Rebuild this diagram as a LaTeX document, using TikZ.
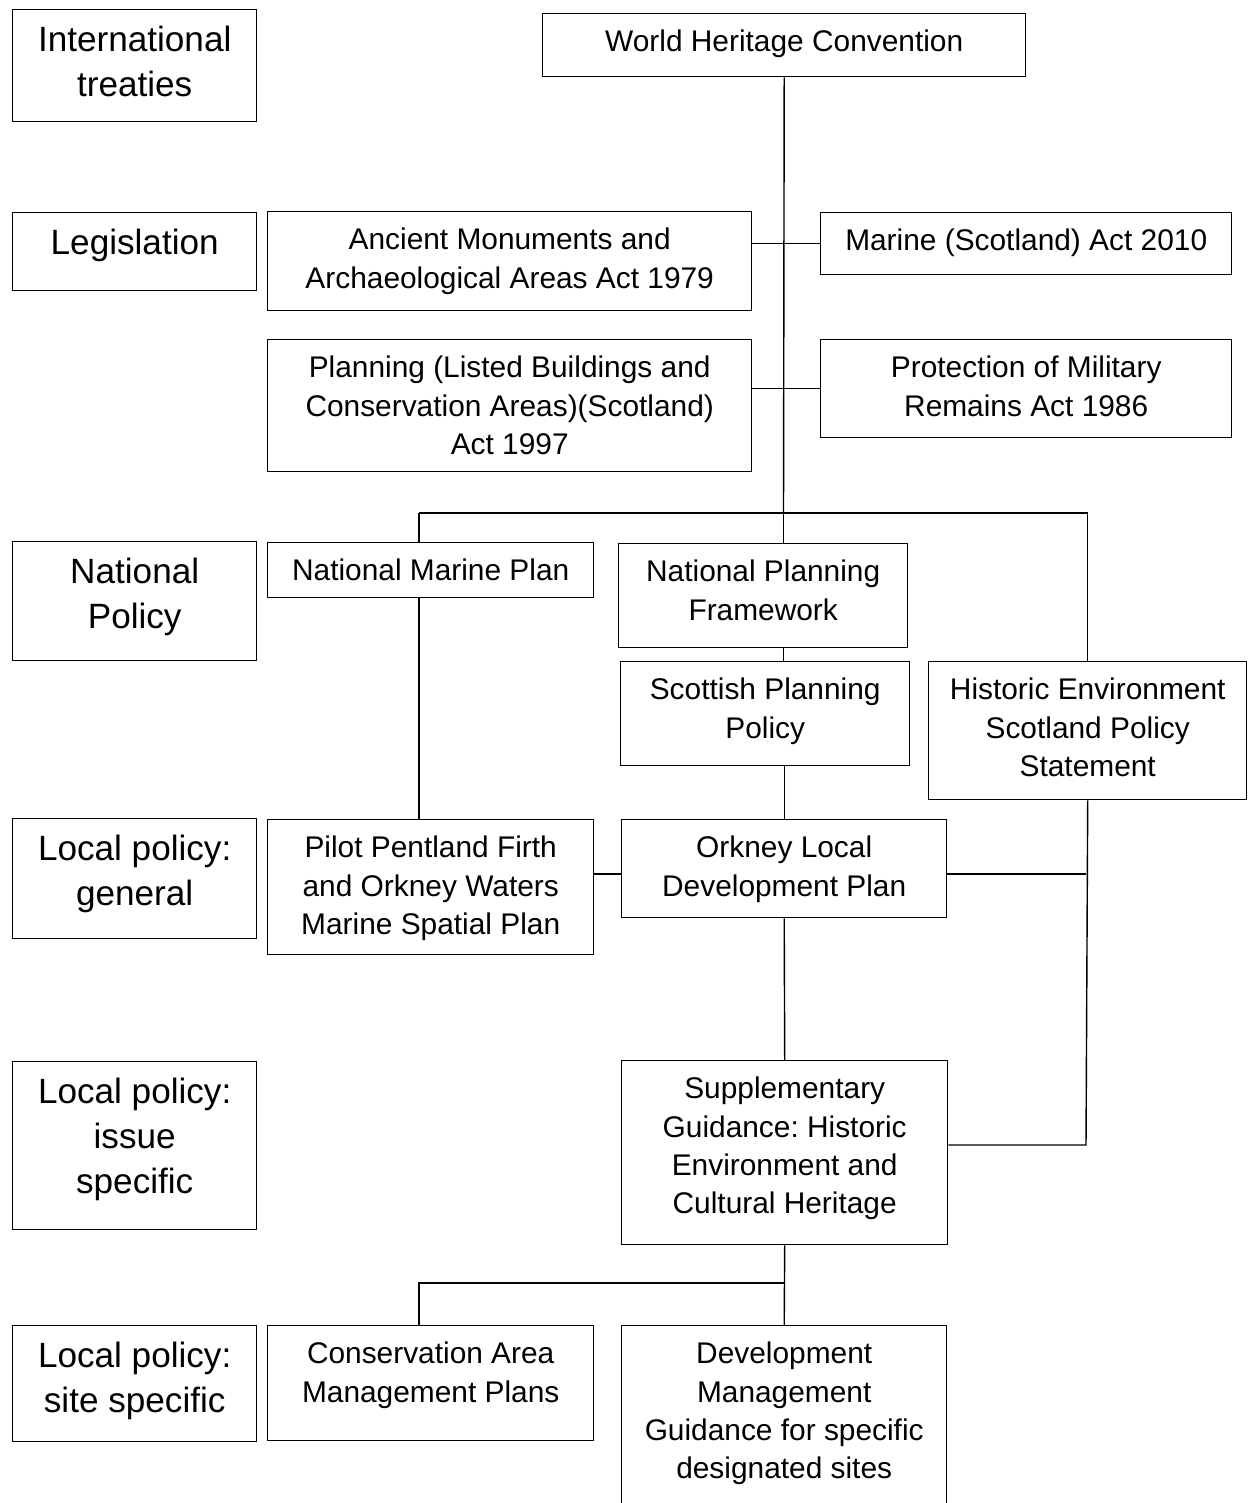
\documentclass[tikz,border=0pt]{standalone}
\usepackage{fontspec}
\setmainfont{Liberation Sans}
\usepackage{tikz}
\frenchspacing

\newdimen\px
\px=0.02cm
% box text: width, height (in px), text set at the top
\newcommand{\cell}[3]{\parbox[t][\dimexpr#2\px-0.66cm\relax][t]{#1\px}{\centering #3}}

\tikzset{
	box/.style={draw=black, line width=0.8pt, anchor=north west, inner xsep=0pt, inner ysep=0.33cm, font=\fontsize{17}{21.8}\selectfont},
	tier/.style={box, font=\fontsize{20}{25.5}\selectfont},
	link/.style={draw=black, line width=0.8pt}
}

\begin{document}
\begin{tikzpicture}[x=0.02cm, y=-0.02cm]
	
	\useasboundingbox (0,0) rectangle (1247,1503);
	
	% levels
	\node[tier] (trt) at (12, 9)    {\cell{244}{112}{International\\treaties}};
	\node[tier] (leg) at (12, 212)  {\cell{244}{78}{Legislation}};
	\node[tier] (nat) at (12, 541)  {\cell{244}{119}{National\\Policy}};
	\node[tier] (lpg) at (12, 818)  {\cell{244}{120}{Local policy:\\general}};
	\node[tier] (lpi) at (12, 1061) {\cell{244}{168}{Local policy:\\issue\\specific}};
	\node[tier] (lps) at (12, 1325) {\cell{244}{116}{Local policy:\\site specific}};
	
	% documents
	\node[box] (whc) at (542, 13)   {\cell{483}{63}{World Heritage Convention}};
	\node[box] (anc) at (267, 211)  {\cell{484}{99}{Ancient Monuments and\\Archaeological Areas Act 1979}};
	\node[box] (mar) at (820, 212)  {\cell{411}{62}{Marine (Scotland) Act 2010}};
	\node[box] (pla) at (267, 339)  {\cell{484}{132}{Planning (Listed Buildings and\\Conservation Areas)(Scotland)\\Act 1997}};
	\node[box] (pro) at (820, 339)  {\cell{411}{98}{Protection of Military\\Remains Act 1986}};
	\node[box] (nmp) at (267, 542)  {\cell{326}{53}{National Marine Plan}};
	\node[box] (npf) at (618, 543)  {\cell{289}{104}{National Planning\\Framework}};
	\node[box] (spp) at (620, 661)  {\cell{289}{104}{Scottish Planning\\Policy}};
	\node[box] (hes) at (928, 661)  {\cell{318}{138}{Historic Environment\\Scotland Policy\\Statement}};
	\node[box] (pil) at (267, 819)  {\cell{326}{135}{Pilot Pentland Firth\\and Orkney Waters\\Marine Spatial Plan}};
	\node[box] (old) at (621, 819)  {\cell{325}{98}{Orkney Local\\Development Plan}};
	\node[box] (sup) at (621, 1060) {\cell{326}{184}{Supplementary\\Guidance: Historic\\Environment and\\Cultural Heritage}};
	\node[box] (con) at (267, 1325) {\cell{326}{115}{Conservation Area\\Management Plans}};
	\node[box] (dev) at (621, 1325) {\cell{325}{200}{Development\\Management\\Guidance for specific\\designated sites}};
	
	\coordinate (split) at (783.5, 513);
	\coordinate (mleft) at (419, 513);
	\coordinate (hesmid) at (1086, 874);
	\coordinate (hesbot) at (1086, 1145);
	\coordinate (fork) at (419, 1283);
	
	\path[link] (whc.south) -- (split);
	\path[link] (anc.east |- mar.west) -- (mar.west);
	\path[link] (pla.east |- pro.west) -- (pro.west);
	\path[link] (mleft) -- (split -| hes.north) -- (hes.north);
	\path[link] (mleft) -- (nmp.north -| mleft);
	\path[link] (split) -- (npf.north -| split);
	\path[link] (npf.south -| split) -- (spp.north -| split);
	\path[link] (spp.south -| old.north) -- (old.north);
	\path[link] (nmp.south -| mleft) -- (pil.north -| mleft);
	\path[link] (pil.east |- hesmid) -- (old.west |- hesmid);
	\path[link] (old.east |- hesmid) -- (hesmid);
	\path[link] (hes.south) -- (hesbot) -- (sup.east |- hesbot);
	\path[link] (old.south) -- (sup.north);
	\path[link] (sup.south) -- (dev.north);
	\path[link] (sup.south |- fork) -- (fork) -- (con.north -| fork);
	
\end{tikzpicture}
\end{document}
